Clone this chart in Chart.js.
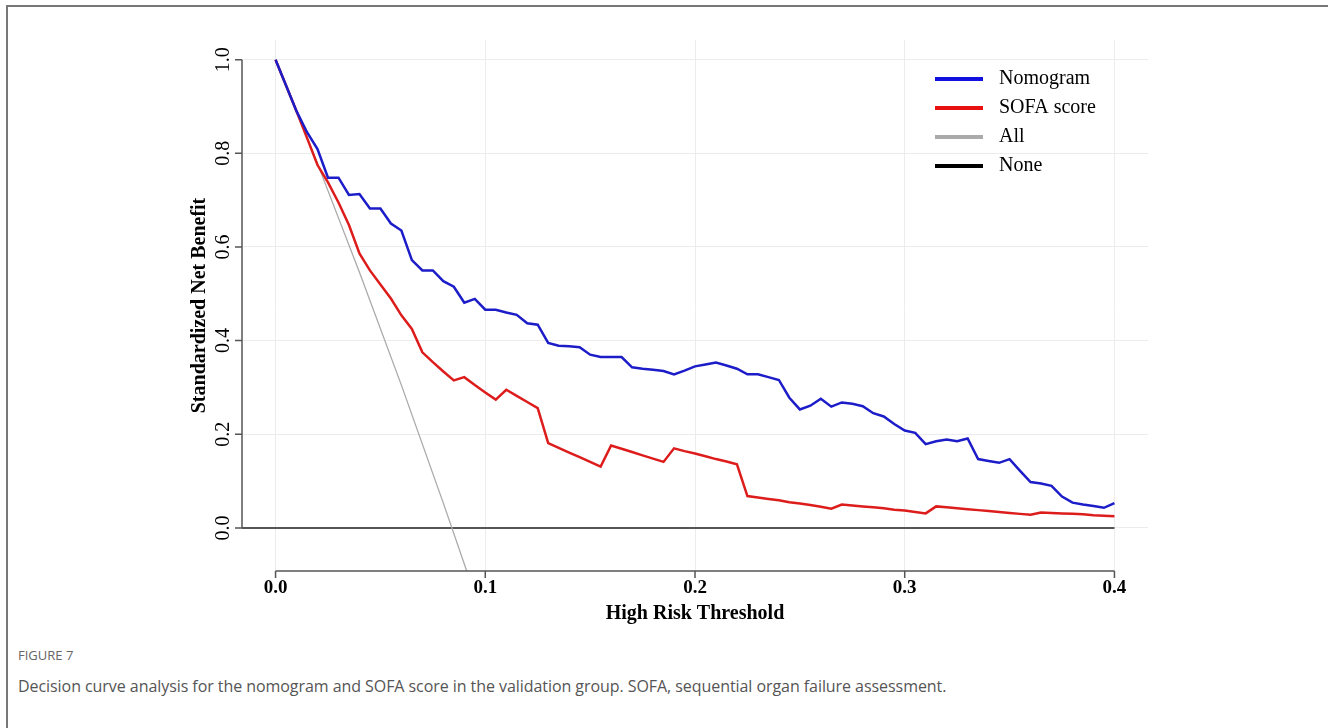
<!DOCTYPE html>
<html lang="en">
<head>
<meta charset="UTF-8" />
<title>Decision curve analysis</title>
<script src="https://cdn.jsdelivr.net/npm/chart.js"></script>
<style>
  html, body { margin: 0; padding: 0; background: #fff; overflow: hidden; }
  .frame { position: absolute; left: 6px; top: 5px; width: 1400px; height: 800px; border-top: 2px solid #777; border-left: 2px solid #777; }
  .chart { position: absolute; left: 0; top: 0; width: 1328px; height: 640px; }
  .fig-label { position: absolute; left: 18px; top: 646px; font-family: 'Open Sans'; font-size: 13px; color: #666; }
  .caption { position: absolute; left: 18px; top: 675px; font-family: 'Open Sans'; font-size: 16px; color: #555; letter-spacing: -0.06px; }
</style>
</head>
<body>
  <div class="frame"></div>
  <div class="chart"><canvas id="dca"></canvas></div>
  <div class="fig-label">FIGURE 7</div>
  <div class="caption">Decision curve analysis for the nomogram and SOFA score in the validation group. SOFA, sequential organ failure assessment.</div>

<script>
  // thresholds, step 0.005
  const thresholds = [
    0.000, 0.005, 0.010, 0.015, 0.020, 0.025, 0.030, 0.035, 0.040, 0.045,
    0.050, 0.055, 0.060, 0.065, 0.070, 0.075, 0.080, 0.085, 0.090, 0.095,
    0.100, 0.105, 0.110, 0.115, 0.120, 0.125, 0.130, 0.135, 0.140, 0.145,
    0.150, 0.155, 0.160, 0.165, 0.170, 0.175, 0.180, 0.185, 0.190, 0.195,
    0.200, 0.205, 0.210, 0.215, 0.220, 0.225, 0.230, 0.235, 0.240, 0.245,
    0.250, 0.255, 0.260, 0.265, 0.270, 0.275, 0.280, 0.285, 0.290, 0.295,
    0.300, 0.305, 0.310, 0.315, 0.320, 0.325, 0.330, 0.335, 0.340, 0.345,
    0.350, 0.355, 0.360, 0.365, 0.370, 0.375, 0.380, 0.385, 0.390, 0.395,
    0.400
  ];
  const nomogram = [
    1.000, 0.945, 0.890, 0.845, 0.809, 0.748, 0.748, 0.711, 0.713, 0.682,
    0.682, 0.650, 0.635, 0.572, 0.550, 0.550, 0.527, 0.515, 0.481, 0.489,
    0.466, 0.466, 0.460, 0.455, 0.437, 0.434, 0.395, 0.389, 0.388, 0.386,
    0.370, 0.365, 0.365, 0.365, 0.343, 0.340, 0.338, 0.335, 0.328, 0.336,
    0.345, 0.349, 0.353, 0.347, 0.340, 0.328, 0.328, 0.322, 0.316, 0.278,
    0.253, 0.261, 0.276, 0.259, 0.268, 0.265, 0.260, 0.245, 0.238, 0.222,
    0.208, 0.203, 0.179, 0.185, 0.189, 0.185, 0.191, 0.147, 0.143, 0.139,
    0.147, 0.122, 0.098, 0.095, 0.090, 0.067, 0.054, 0.050, 0.047, 0.043,
    0.053
  ];
  const sofa = [
    1.000, 0.945, 0.890, 0.833, 0.775, 0.738, 0.695, 0.647, 0.586, 0.550,
    0.520, 0.490, 0.454, 0.425, 0.375, 0.354, 0.334, 0.315, 0.322, 0.305,
    0.289, 0.274, 0.295, 0.282, 0.269, 0.256, 0.181, 0.171, 0.161, 0.151,
    0.141, 0.131, 0.176, 0.169, 0.162, 0.155, 0.148, 0.141, 0.170, 0.164,
    0.159, 0.153, 0.147, 0.142, 0.136, 0.068, 0.065, 0.062, 0.059, 0.055,
    0.052, 0.049, 0.045, 0.041, 0.050, 0.048, 0.046, 0.044, 0.042, 0.039,
    0.037, 0.034, 0.031, 0.046, 0.044, 0.042, 0.040, 0.038, 0.036, 0.034,
    0.032, 0.030, 0.028, 0.033, 0.032, 0.031, 0.030, 0.029, 0.027, 0.026,
    0.025
  ];
  // treat-all curve, runs off the bottom of the plot
  const allX = [0.000, 0.020, 0.040, 0.060, 0.080, 0.092];
  const allY = [1.000, 0.778, 0.546, 0.305, 0.053, -0.103];
  // treat-none line
  const noneX = [-0.016, 0.400];
  const noneY = [0, 0];

  const xTicks = [0.0, 0.1, 0.2, 0.3, 0.4];
  const yTicks = [0.0, 0.2, 0.4, 0.6, 0.8, 1.0];
  const xTitle = 'High Risk Threshold';
  const yTitle = 'Standardized Net Benefit';

  const pts = (xs, ys) => xs.map((x, i) => ({ x: x, y: ys[i] }));
  const serif = '"Liberation Serif", "Times New Roman", serif';

  // R-style axes, titles and legend drawn from the chart scales
  const baseAxes = {
    id: 'baseAxes',
    afterDraw(chart) {
      const { ctx, chartArea: a, scales: { x, y } } = chart;
      ctx.save();
      ctx.strokeStyle = '#555';
      ctx.lineWidth = 1.5;
      ctx.beginPath();
      ctx.moveTo(x.getPixelForValue(xTicks[0]), a.bottom);
      ctx.lineTo(x.getPixelForValue(xTicks[xTicks.length - 1]), a.bottom);
      xTicks.forEach(v => {
        const px = x.getPixelForValue(v);
        ctx.moveTo(px, a.bottom);
        ctx.lineTo(px, a.bottom + 7);
      });
      ctx.moveTo(a.left, y.getPixelForValue(yTicks[0]));
      ctx.lineTo(a.left, y.getPixelForValue(yTicks[yTicks.length - 1]));
      yTicks.forEach(v => {
        const py = y.getPixelForValue(v);
        ctx.moveTo(a.left, py);
        ctx.lineTo(a.left - 7, py);
      });
      ctx.stroke();

      ctx.fillStyle = '#000';
      ctx.textAlign = 'center';
      ctx.textBaseline = 'middle';
      ctx.font = 'bold 19px ' + serif;
      xTicks.forEach(v => ctx.fillText(v.toFixed(1), x.getPixelForValue(v), a.bottom + 17));
      ctx.font = '20px ' + serif;
      yTicks.forEach(v => {
        ctx.save();
        ctx.translate(a.left - 18, y.getPixelForValue(v));
        ctx.rotate(-Math.PI / 2);
        ctx.fillText(v.toFixed(1), 0, 0);
        ctx.restore();
      });

      ctx.font = 'bold 20px ' + serif;
      ctx.fillText(xTitle, (a.left + a.right) / 2, a.bottom + 43);
      ctx.save();
      ctx.translate(a.left - 42, (a.top + a.bottom) / 2);
      ctx.rotate(-Math.PI / 2);
      ctx.fillText(yTitle, 0, 0);
      ctx.restore();

      // legend
      const lx = a.right - 213, ly = a.top + 39, gap = 29;
      ctx.font = '20px ' + serif;
      ctx.textAlign = 'left';
      chart.data.datasets.forEach((ds, i) => {
        const yy = ly + i * gap;
        ctx.strokeStyle = ds.legendColor;
        ctx.lineWidth = 4;
        ctx.beginPath();
        ctx.moveTo(lx, yy);
        ctx.lineTo(lx + 48, yy);
        ctx.stroke();
        ctx.fillText(ds.label, lx + 64, yy);
      });
      ctx.restore();
    }
  };

  new Chart(document.getElementById('dca'), {
    type: 'line',
    data: {
      datasets: [
        { label: 'Nomogram', data: pts(thresholds, nomogram), borderColor: '#1c1cc8', legendColor: '#1010e0', borderWidth: 2.5 },
        { label: 'SOFA score', data: pts(thresholds, sofa), borderColor: '#dd1c1c', legendColor: '#e81010', borderWidth: 2.5 },
        { label: 'All', data: pts(allX, allY), borderColor: '#aaaaaa', legendColor: '#aaaaaa', borderWidth: 1.3 },
        { label: 'None', data: pts(noneX, noneY), borderColor: '#555555', legendColor: '#000000', borderWidth: 2 }
      ]
    },
    options: {
      responsive: true,
      maintainAspectRatio: false,
      animation: false,
      layout: { padding: { left: 242, right: 180, top: 40, bottom: 69 } },
      elements: { point: { radius: 0 }, line: { tension: 0 } },
      plugins: { legend: { display: false }, tooltip: { enabled: false } },
      scales: {
        x: {
          type: 'linear', min: -0.016, max: 0.416,
          afterBuildTicks: s => { s.ticks = xTicks.map(v => ({ value: v })); },
          ticks: { display: false },
          grid: { color: '#ececec', drawTicks: false },
          border: { display: false }
        },
        y: {
          type: 'linear', min: -0.092, max: 1.042,
          afterBuildTicks: s => { s.ticks = yTicks.map(v => ({ value: v })); },
          ticks: { display: false },
          grid: { color: '#ececec', drawTicks: false },
          border: { display: false }
        }
      }
    },
    plugins: [baseAxes]
  });
</script>
</body>
</html>
